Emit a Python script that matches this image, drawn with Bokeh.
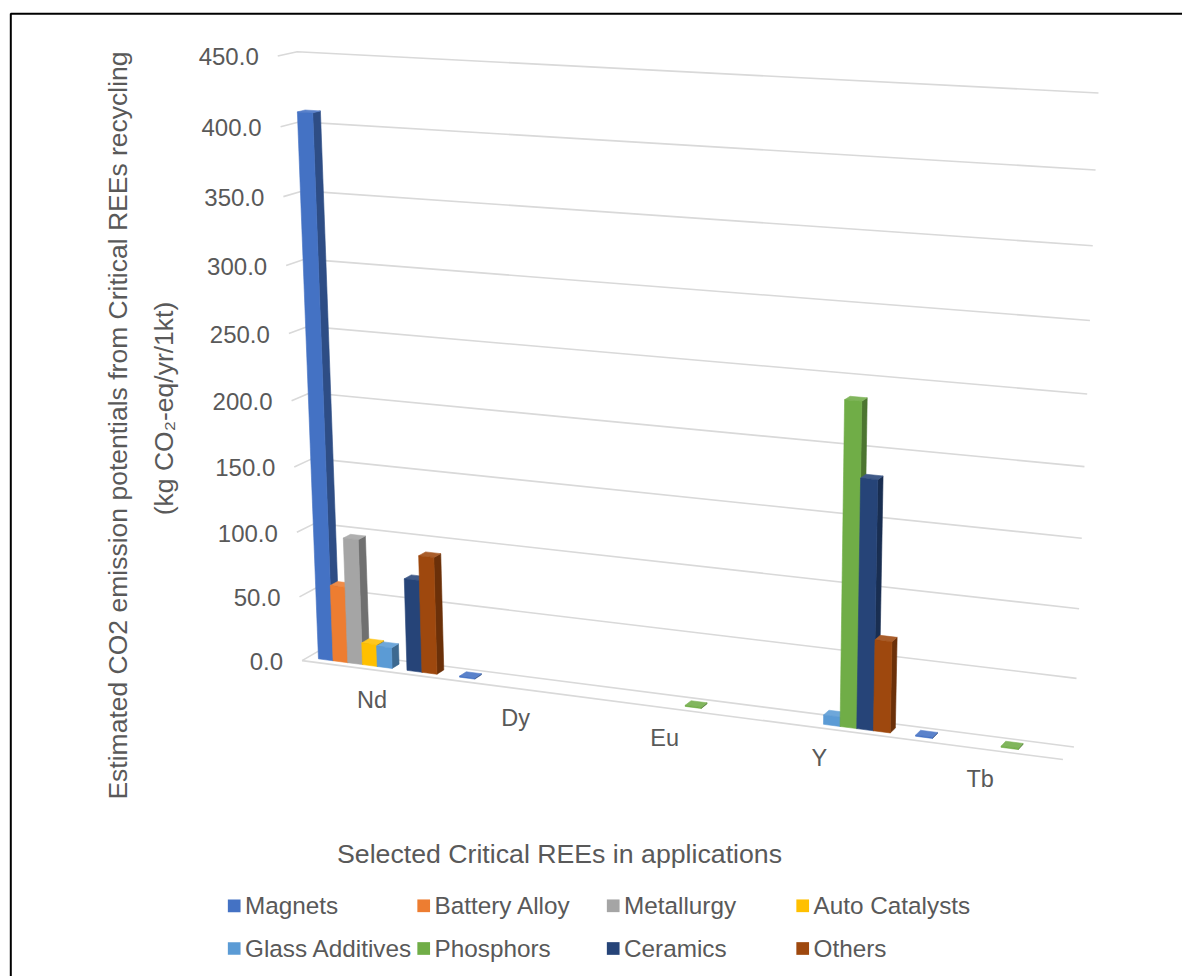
import numpy as np
from bokeh.plotting import figure
from bokeh.models import Range1d
from bokeh.embed import file_html
from bokeh.resources import INLINE
from bokeh.core.properties import value

# ---------------------------------------------------------------- data
categories = ["Nd", "Dy", "Eu", "Y", "Tb"]
series_names = ["Magnets", "Battery Alloy", "Metallurgy", "Auto Catalysts",
                "Glass Additives", "Phosphors", "Ceramics", "Others"]
series_colors = ["#4472C4", "#ED7D31", "#A5A5A5", "#FFC000",
                 "#5B9BD5", "#70AD47", "#264478", "#9E480E"]

# kg CO2-eq/yr/1kt per application, one entry per element (None = no entry)
magnets = [410.0, 0.8, None, None, 0.8]
battery_alloy = [59.0, None, None, None, None]
metallurgy = [97.0, None, None, None, None]
auto_catalysts = [17.0, None, None, None, None]
glass_additives = [16.0, None, None, 7.0, None]
phosphors = [None, None, 0.8, 236.0, 0.8]
ceramics = [71.0, None, None, 182.0, None]
others = [90.0, None, None, 67.0, None]
series_values = [magnets, battery_alloy, metallurgy, auto_catalysts,
                 glass_additives, phosphors, ceramics, others]

value_ticks = [0, 50, 100, 150, 200, 250, 300, 350, 400, 450]
value_max = 450.0

x_title = "Selected Critical REEs in applications"
y_title_1 = "Estimated CO2 emission potentials from Critical REEs recycling"
y_title_2 = "(kg CO\u2082-eq/yr/1kt)"

# ---------------------------------------------------------------- style
W, H = 1182, 976
FONT = "Liberation Sans"
TEXT = "#595959"
GRID = "#D9D9D9"

# Perspective view of the plot box. Box coordinates are
# u (category axis, 0..1), v (value axis, 0..1), w (depth, 0 back .. 1 front);
# each entry pins a box point to its place on the page.
VIEW_PINS = [
    ((0.0, 0.0, 0.0), (320.0, 651.7)),
    ((1.0, 0.0, 0.0), (1072.7, 746.0)),
    ((0.0, 1.0, 0.0), (296.7, 50.7)),
    ((1.0, 1.0, 0.0), (1098.3, 92.7)),
    ((0.0, 0.0, 1.0), (301.7, 659.3)),
    ((1.0, 0.0, 1.0), (1063.3, 760.0)),
    ((0.0, 1.0, 1.0), (276.7, 56.0)),
    ((1.0, 2 / 9, 0.0), (1078.3, 607.7)),
    ((1.0, 4 / 9, 0.0), (1084.0, 466.0)),
    ((1.0, 6 / 9, 0.0), (1089.3, 320.0)),
    ((0.0, 8 / 9, 0.0), (300.0, 120.7)),
    ((0.0, 8 / 9, 1.0), (280.0, 127.3)),
    ((0.0, 2 / 9, 1.0), (296.7, 531.7)),
    ((0.0, 1 / 9, 1.0), (298.3, 595.0)),
]


def fit_view(pins):
    """Projective camera (3x4) from box points to page points (DLT)."""
    src = np.array([a for a, _ in pins], float)
    dst = np.array([b for _, b in pins], float)
    mean = dst.mean(axis=0)
    scale = dst.std()
    nd = (dst - mean) / scale
    rows = []
    for (X, Y, Z), (x, y) in zip(src, nd):
        P = [X, Y, Z, 1.0]
        rows.append(P + [0.0] * 4 + [-x * c for c in P])
        rows.append([0.0] * 4 + P + [-y * c for c in P])
    _, _, vt = np.linalg.svd(np.array(rows))
    cam = vt[-1].reshape(3, 4)
    denorm = np.array([[scale, 0, mean[0]], [0, scale, mean[1]], [0, 0, 1]])
    return denorm @ cam


CAM = fit_view(VIEW_PINS)


def proj(u, v, w):
    x, y, z = CAM @ np.array([u, v, w, 1.0])
    return x / z, y / z


def shade(hex_color, k):
    r, g, b = (int(hex_color[i:i + 2], 16) for i in (1, 3, 5))
    return "#%02x%02x%02x" % (int(r * k), int(g * k), int(b * k))


def tint(hex_color, k):
    r, g, b = (int(hex_color[i:i + 2], 16) for i in (1, 3, 5))
    return "#%02x%02x%02x" % tuple(int(c + (255 - c) * k) for c in (r, g, b))


p = figure(width=W, height=H, output_backend="svg", toolbar_location=None,
           x_range=Range1d(0, W), y_range=Range1d(H, 0),
           min_border=0, outline_line_color=None)
p.axis.visible = False
p.grid.visible = False
p.background_fill_color = "white"
p.border_fill_color = "white"

# ---------------------------------------------------------------- walls
gx, gy = [], []
for t in value_ticks:
    v = t / value_max
    a, b, c = proj(0, v, 1), proj(0, v, 0), proj(1, v, 0)
    gx.append([a[0], b[0], c[0]])
    gy.append([a[1], b[1], c[1]])
f0, f1 = proj(0, 0, 1), proj(1, 0, 1)
gx.append([f0[0], f1[0]])
gy.append([f0[1], f1[1]])
p.multi_line(gx, gy, line_color=GRID, line_width=1.6)

# ---------------------------------------------------------------- bars
n_cat, n_ser = len(categories), len(series_names)
GAP = 1.5                 # space between clusters, in bar widths
W_BACK, W_FRONT = 0.3, 0.7
slot = 1.0 / n_cat / (n_ser + GAP)

px, py, pc = [], [], []
for i in range(n_cat):
    for j in range(n_ser):
        val = series_values[j][i]
        if val is None:
            continue
        col = series_colors[j]
        u0 = i / n_cat + (GAP / 2 + j) * slot
        u1 = u0 + slot
        v = val / value_max
        faces = [
            ([(u1, 0, W_FRONT), (u1, 0, W_BACK), (u1, v, W_BACK), (u1, v, W_FRONT)], shade(col, 0.68)),
            ([(u0, v, W_FRONT), (u1, v, W_FRONT), (u1, v, W_BACK), (u0, v, W_BACK)], tint(col, 0.12)),
            ([(u0, 0, W_FRONT), (u1, 0, W_FRONT), (u1, v, W_FRONT), (u0, v, W_FRONT)], col),
        ]
        for corners, fc in faces:
            pts = [proj(*c) for c in corners]
            px.append([q[0] for q in pts])
            py.append([q[1] for q in pts])
            pc.append(fc)
p.patches(px, py, fill_color=pc, line_color=pc, line_width=0.6)

# ---------------------------------------------------------------- value labels
tx, ty, tt = [], [], []
for t in value_ticks:
    a = proj(0, t / value_max, 1)
    tx.append(a[0] - 19)
    ty.append(a[1] + 0.8)
    tt.append("%.1f" % t)
p.text(tx, ty, text=tt, text_align="right", text_baseline="middle",
       text_font=value(FONT), text_font_size="24px", text_color=TEXT)

# ---------------------------------------------------------------- category labels
cx, cy = [], []
for i in range(n_cat):
    a = proj((i + 0.5) / n_cat, 0, 1)
    cx.append(a[0])
    cy.append(a[1] + 30)
p.text(cx, cy, text=categories, text_align="center", text_baseline="middle",
       text_font=value(FONT), text_font_size="23.5px", text_color=TEXT)

# ---------------------------------------------------------------- axis titles
p.text([559], [853], text=[x_title], text_align="center", text_baseline="middle",
       text_font=value(FONT), text_font_size="26.7px", text_color=TEXT)
p.text([117], [425], text=[y_title_1], angle=np.pi / 2, text_align="center",
       text_baseline="middle", text_font=value(FONT), text_font_size="26.5px",
       text_color=TEXT)
p.text([163], [408], text=[y_title_2], angle=np.pi / 2, text_align="center",
       text_baseline="middle", text_font=value(FONT), text_font_size="26.5px",
       text_color=TEXT)

# ---------------------------------------------------------------- legend
LEG_X0, LEG_DX = 233.7, 189.5
LEG_Y = [905.3, 948.0]
SW = 12.7
lx, ly, lcol, ltx, lty = [], [], [], [], []
for k, name in enumerate(series_names):
    r, c = divmod(k, 4)
    x = LEG_X0 + c * LEG_DX
    lx.append(x)
    ly.append(LEG_Y[r])
    lcol.append(series_colors[k])
    ltx.append(x + SW / 2 + 4.5)
    lty.append(LEG_Y[r])
p.rect(lx, ly, width=SW, height=SW, fill_color=lcol, line_color=None)
p.text(ltx, lty, text=series_names, text_align="left", text_baseline="middle",
       text_font=value(FONT), text_font_size="24.3px", text_color=TEXT)

# ---------------------------------------------------------------- frame
p.line([10.3, 10.3, W], [H, 13.3, 13.3], line_color="black", line_width=2)

open("out.html", "w").write(file_html(p, INLINE))
